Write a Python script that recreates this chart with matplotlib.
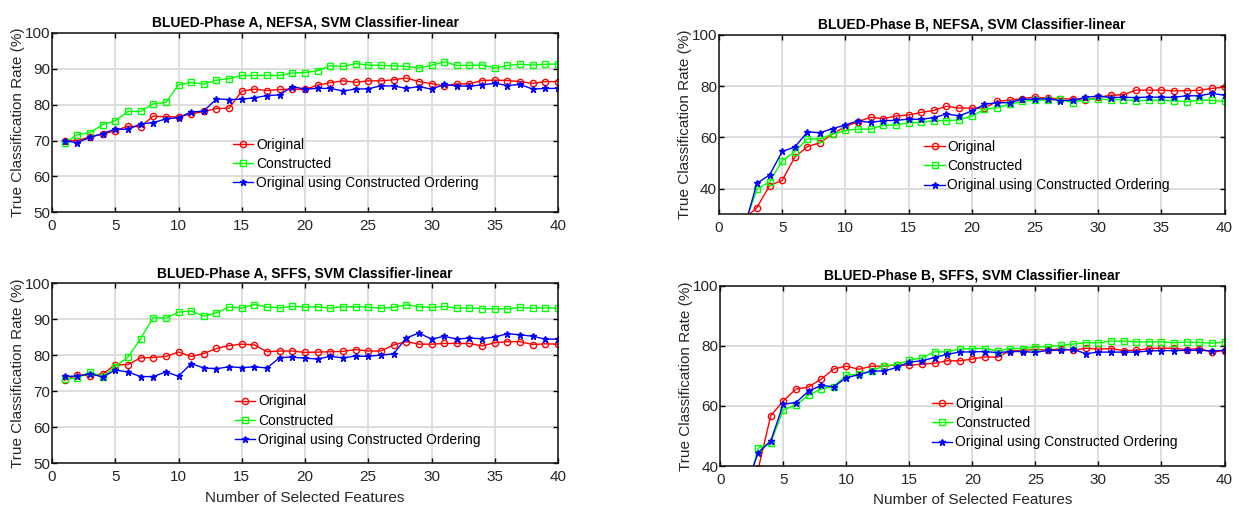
import numpy as np
import matplotlib
matplotlib.use("Agg")
import matplotlib.pyplot as plt
from matplotlib import font_manager

plt.rcParams['font.family'] = ['Liberation Sans', 'DejaVu Sans']

names = {f.name for f in font_manager.fontManager.ttflist}
title_family = ['Liberation Sans Narrow', 'Liberation Sans'] if 'Liberation Sans Narrow' in names else ['Liberation Sans']
title_size = 11.5 if 'Liberation Sans Narrow' in names else 10

features = list(range(1, 41))

titles = ["BLUED-Phase A, NEFSA, SVM Classifier-linear",
          "BLUED-Phase B, NEFSA, SVM Classifier-linear",
          "BLUED-Phase A, SFFS, SVM Classifier-linear",
          "BLUED-Phase B, SFFS, SVM Classifier-linear"]
series_names = ["Original", "Constructed", "Original using Constructed Ordering"]
xlabel_text = "Number of Selected Features"
ylabel_text = "True Classification Rate (%)"

# Panel A-NEFSA
a_nefsa_orig = [70.0, 70.0, 71.0, 71.8, 72.7, 74.0, 73.8, 76.8, 76.6, 76.6,
                77.4, 78.1, 78.9, 79.0, 83.7, 84.3, 83.9, 84.2, 84.3, 84.2,
                85.4, 86.1, 86.6, 86.2, 86.6, 86.6, 86.9, 87.4, 86.4, 85.8,
                85.2, 85.7, 85.8, 86.7, 86.8, 86.7, 86.4, 85.9, 86.4, 86.4]
a_nefsa_cons = [69.4, 71.6, 72.2, 74.4, 75.5, 78.1, 78.1, 80.2, 80.6, 85.5,
                86.2, 85.7, 86.8, 87.2, 88.1, 88.1, 88.1, 88.1, 88.8, 88.9,
                89.4, 90.8, 90.6, 91.4, 91.0, 90.9, 90.8, 90.6, 90.2, 90.9,
                91.9, 90.9, 90.9, 91.0, 90.2, 90.9, 91.2, 91.0, 91.2, 91.3]
a_nefsa_oco = [69.9, 69.4, 70.9, 71.9, 73.2, 73.1, 74.6, 75.0, 76.0, 76.4,
               77.9, 78.2, 81.6, 81.4, 81.5, 81.9, 82.5, 82.7, 85.0, 84.3,
               84.5, 84.5, 83.8, 84.3, 84.4, 85.2, 85.2, 84.5, 85.0, 84.3,
               85.6, 85.2, 85.1, 85.5, 85.9, 85.3, 85.6, 84.3, 84.5, 84.5]

# Panel B-NEFSA
b_nefsa_orig = [22.0, 28.3, 32.6, 41.2, 43.2, 52.3, 56.4, 57.9, 61.4, 64.2,
                66.1, 67.8, 67.3, 68.3, 68.7, 69.7, 70.5, 72.1, 71.4, 71.4,
                71.4, 74.0, 74.5, 75.1, 75.7, 75.2, 75.1, 74.9, 74.4, 75.6,
                76.4, 76.6, 78.4, 78.4, 78.4, 78.1, 78.2, 78.3, 79.1, 79.5]
b_nefsa_cons = [20.0, 25.6, 39.8, 42.6, 50.9, 54.4, 59.4, 59.4, 61.3, 62.7,
                63.2, 63.2, 64.7, 64.8, 65.7, 65.8, 66.5, 66.5, 66.8, 68.3,
                70.9, 71.6, 72.9, 74.0, 74.5, 74.5, 74.9, 73.4, 74.9, 74.9,
                74.7, 74.7, 74.2, 74.5, 74.4, 74.2, 73.9, 74.5, 74.4, 74.0]
b_nefsa_oco = [20.0, 24.6, 42.1, 45.3, 54.5, 56.2, 62.1, 61.8, 63.4, 64.8,
               66.4, 65.8, 66.5, 66.6, 67.1, 67.0, 67.7, 69.1, 68.4, 70.2,
               72.9, 73.5, 73.5, 74.9, 74.8, 75.1, 74.3, 74.4, 75.6, 76.1,
               75.5, 75.6, 75.5, 75.7, 75.6, 75.6, 76.2, 76.2, 77.1, 76.4]

# Panel A-SFFS
a_sffs_orig = [73.1, 74.5, 74.4, 74.8, 77.4, 77.4, 79.3, 79.4, 79.7, 80.9,
               79.7, 80.5, 81.9, 82.7, 83.1, 82.9, 81.0, 81.2, 81.2, 80.8,
               80.9, 81.0, 81.1, 81.6, 81.2, 81.2, 82.9, 83.8, 83.1, 83.1,
               83.3, 83.3, 83.3, 82.6, 83.5, 83.8, 83.8, 83.0, 83.2, 83.1]
a_sffs_cons = [73.4, 73.7, 75.4, 74.0, 76.9, 79.5, 84.6, 90.5, 90.3, 92.0,
               92.3, 90.9, 91.8, 93.4, 93.1, 94.1, 93.4, 93.2, 93.6, 93.4,
               93.5, 93.1, 93.5, 93.5, 93.4, 93.1, 93.3, 94.0, 93.5, 93.3,
               93.6, 93.1, 93.1, 93.0, 92.9, 92.9, 93.3, 93.1, 93.2, 93.1]
a_sffs_oco = [74.2, 74.2, 74.9, 74.0, 75.9, 75.4, 74.1, 74.1, 75.4, 74.2,
              77.7, 76.5, 76.3, 76.8, 76.6, 76.8, 76.5, 79.4, 79.5, 79.2,
              79.0, 79.7, 79.3, 79.8, 79.7, 80.1, 80.4, 84.8, 86.2, 84.5,
              85.3, 84.5, 84.8, 84.6, 85.1, 86.0, 85.7, 85.3, 84.5, 84.5]

# Panel B-SFFS
b_sffs_orig = [25.0, 32.0, 38.9, 56.7, 61.7, 65.6, 66.3, 68.9, 72.3, 73.2,
               72.2, 73.2, 73.2, 73.7, 73.5, 73.9, 74.2, 75.0, 75.0, 75.6,
               76.3, 76.2, 78.4, 78.4, 78.8, 78.5, 79.1, 78.5, 79.2, 78.9,
               79.1, 78.4, 78.5, 79.1, 79.2, 79.2, 78.7, 79.1, 77.9, 78.4]
b_sffs_cons = [25.0, 30.0, 45.9, 47.8, 58.7, 60.3, 63.5, 65.7, 66.4, 70.3,
               70.5, 71.6, 73.4, 73.7, 75.2, 76.0, 78.0, 78.0, 78.9, 79.1,
               79.1, 78.2, 79.1, 79.1, 79.6, 79.7, 80.1, 80.6, 81.0, 81.0,
               81.6, 81.6, 81.3, 81.3, 81.3, 81.0, 81.3, 81.1, 80.9, 81.3]
b_sffs_oco = [25.0, 32.5, 44.4, 48.3, 60.6, 61.1, 64.9, 66.8, 66.4, 69.4,
              70.4, 71.6, 71.6, 72.8, 74.6, 75.0, 76.1, 77.2, 77.9, 78.0,
              78.1, 77.7, 78.1, 78.1, 77.8, 78.5, 78.5, 78.8, 77.4, 77.9,
              77.9, 77.9, 77.9, 78.3, 78.4, 78.4, 78.5, 78.5, 78.3, 78.5]

panels = [
    dict(title=titles[0], data=(a_nefsa_orig, a_nefsa_cons, a_nefsa_oco),
         ylim=(50, 100), yticks=[50, 60, 70, 80, 90, 100],
         pos=[52, 32.7, 558, 212.4], leg=(0.358, 0.125), xlabel=False),
    dict(title=titles[1], data=(b_nefsa_orig, b_nefsa_cons, b_nefsa_oco),
         ylim=(30, 100), yticks=[40, 60, 80, 100],
         pos=[719, 34.7, 1224.5, 214.3], leg=(0.4065, 0.122), xlabel=False),
    dict(title=titles[2], data=(a_sffs_orig, a_sffs_cons, a_sffs_oco),
         ylim=(50, 100), yticks=[50, 60, 70, 80, 90, 100],
         pos=[52, 283.3, 558, 463.4], leg=(0.362, 0.092), xlabel=True),
    dict(title=titles[3], data=(b_sffs_orig, b_sffs_cons, b_sffs_oco),
         ylim=(40, 100), yticks=[40, 60, 80, 100],
         pos=[720.3, 285.7, 1224.5, 466], leg=(0.42, 0.092), xlabel=True),
]

W, H = 1241, 507
fig = plt.figure(figsize=(W / 100, H / 100), dpi=100)

styles = [dict(color='#ff0000', marker='o', markersize=4.5, markerfacecolor='none'),
          dict(color='#00ff00', marker='s', markersize=4.2, markerfacecolor='none'),
          dict(color='#0000ff', marker='*', markersize=5.0, markerfacecolor='#0000ff')]

tick_color = '#262626'
for p in panels:
    l, t, r, b = p['pos']
    ax = fig.add_axes([l / W, 1 - b / H, (r - l) / W, (b - t) / H])
    for vals, name, st in zip(p['data'], series_names, styles):
        ax.plot(features, vals, label=name, linewidth=1.0, markeredgewidth=1.0, **st)
    ax.set_xlim(0, 40)
    ax.set_ylim(*p['ylim'])
    ax.set_xticks(range(0, 41, 5))
    ax.set_yticks(p['yticks'])
    ax.grid(True, color='#dadada', linewidth=1.3)
    ax.set_axisbelow(True)
    ax.tick_params(direction='in', top=True, right=True, length=3.5, width=1.0,
                   labelsize=11, labelcolor=tick_color, color='#000000')
    ax.tick_params(axis='y', pad=1.5)
    ax.tick_params(axis='x', pad=5)
    for s in ax.spines.values():
        s.set_linewidth(1.1)
        s.set_color('#111111')
    ax.set_title(p['title'], fontsize=title_size, fontweight='bold', pad=4.3,
                 family=title_family)
    ax.set_ylabel(ylabel_text, fontsize=11, color=tick_color, labelpad=-0.5)
    if p['xlabel']:
        ax.set_xlabel(xlabel_text, fontsize=11, color=tick_color, labelpad=4.5)
    ax.legend(loc='lower left', bbox_to_anchor=p['leg'], frameon=False,
              fontsize=10, handlelength=1.45, handletextpad=0.2,
              labelspacing=0.375, borderpad=0, borderaxespad=0)

fig.savefig('out.png', dpi=100)
